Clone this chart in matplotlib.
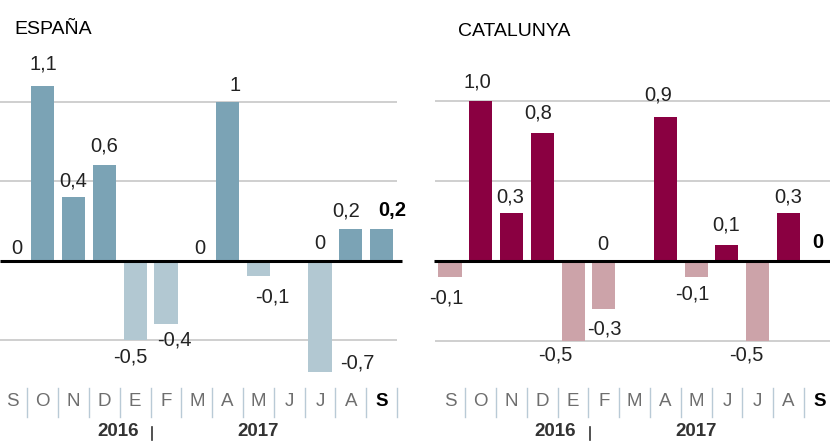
import matplotlib
matplotlib.use("Agg")
import matplotlib.pyplot as plt
import matplotlib.transforms as mtransforms

plt.rcParams['font.family'] = ['Liberation Sans', 'DejaVu Sans']

months = ["S", "O", "N", "D", "E", "F", "M", "A", "M", "J", "J", "A", "S"]
espana = [0, 1.1, 0.4, 0.6, -0.5, -0.4, 0, 1, -0.1, 0, -0.7, 0.2, 0.2]
catalunya = [-0.1, 1.0, 0.3, 0.8, -0.5, -0.3, 0, 0.9, -0.1, 0.1, -0.5, 0.3, 0]
espana_labels = ["0", "1,1", "0,4", "0,6", "-0,5", "-0,4", "0", "1", "-0,1", "0", "-0,7", "0,2", "0,2"]
catalunya_labels = ["-0,1", "1,0", "0,3", "0,8", "-0,5", "-0,3", "0", "0,9", "-0,1", "0,1", "-0,5", "0,3", "0"]
years = ["2016", "2017"]
gridvals = [1.0, 0.5, -0.5]

# label offsets in pixels from (bar centre, bar end)
esp_off = [(5, 12), (1, 22), (0, 16), (0, 19), (-5, -17), (8, -16), (3, 12),
           (7, 16), (14, -21), (31, 17), (37, 9), (-5, 18), (11, 18)]
cat_off = [(-4, -21), (-3, 19), (-1, 16), (-4, 20), (-18, -14), (1, -20), (-32, 16),
           (-7, 22), (-4, -17), (-1, 20), (-11, -14), (0, 16), (-1, 18)]

W, H = 830, 442
fig = plt.figure(figsize=(W / 100, H / 100), dpi=100)

panels = [
    dict(title="ESPAÑA", vals=espana, labels=espana_labels, offs=esp_off,
         pos="#7BA3B5", neg="#B2C8D2", rect=[0, 0, 0.5, 1],
         xlim=((0 - 12) / 30.8, (415 - 12) / 30.8), base=260.5, scale=159.0,
         grid_x=(-0.39, 12.5), base_x=(-0.39, 12.66), seps=13,
         title_px=(14, 29)),
    dict(title="CATALUNYA", vals=catalunya, labels=catalunya_labels, offs=cat_off,
         pos="#8A0041", neg="#CCA3A9", rect=[0.5, 0, 0.5, 1],
         xlim=((415 - 450) / 30.77, (830 - 450) / 30.77), base=261, scale=160.0,
         grid_x=(-0.49, 12.4), base_x=(-0.52, 12.4), seps=12,
         title_px=(458, 32)),
]

for p in panels:
    ax = fig.add_axes(p["rect"])
    ax.set_xlim(*p["xlim"])
    ax.set_ylim((p["base"] - H) / p["scale"], p["base"] / p["scale"])
    ax.axis("off")
    n = len(p["vals"])
    xs = list(range(n))
    colors = [p["pos"] if v >= 0 else p["neg"] for v in p["vals"]]
    for g in gridvals:
        ax.plot(p["grid_x"], [g, g], color="#CCCCCC", lw=1.3, zorder=0,
                solid_capstyle="butt")
    ax.bar(xs, p["vals"], width=0.75, color=colors, zorder=2)
    ax.plot(p["base_x"], [0, 0], color="black", lw=2.2, zorder=3,
            solid_capstyle="butt")
    for i, (v, lab, (dx, dy)) in enumerate(zip(p["vals"], p["labels"], p["offs"])):
        bold = i == n - 1
        ax.annotate(lab, xy=(i, v), xytext=(dx, dy), textcoords="offset pixels",
                    ha="center", va="center", fontsize=14.5,
                    color="black" if bold else "#222222",
                    fontweight="bold" if bold else "normal", zorder=4,
                    annotation_clip=False)
    tr = mtransforms.blended_transform_factory(ax.transData, ax.transAxes)
    for i, m in enumerate(months):
        bold = i == n - 1
        ax.text(i, 1 - 401 / H, m, transform=tr, ha="center", va="center",
                fontsize=13.5, color="black" if bold else "#6E6E6E",
                fontweight="bold" if bold else "normal")
    for k in range(p["seps"]):
        ax.plot([k + 0.5, k + 0.5], [1 - 388 / H, 1 - 417 / H], transform=tr,
                color="#B9CAD6", lw=1, clip_on=False)
    ax.text(3.43, 1 - 432 / H, years[0], transform=tr, ha="center", va="center",
            fontsize=13.5, fontweight="bold", color="#333333")
    ax.text(8.0, 1 - 432 / H, years[1], transform=tr, ha="center", va="center",
            fontsize=13.5, fontweight="bold", color="#333333")
    ax.plot([4.55, 4.55], [1 - 427 / H, 1 - 440 / H], transform=tr, color="#333333",
            lw=1.2, clip_on=False)
    fig.text(p["title_px"][0] / W, 1 - p["title_px"][1] / H, p["title"],
             ha="left", va="center", fontsize=14, color="black")

fig.savefig("out.png", dpi=100)
